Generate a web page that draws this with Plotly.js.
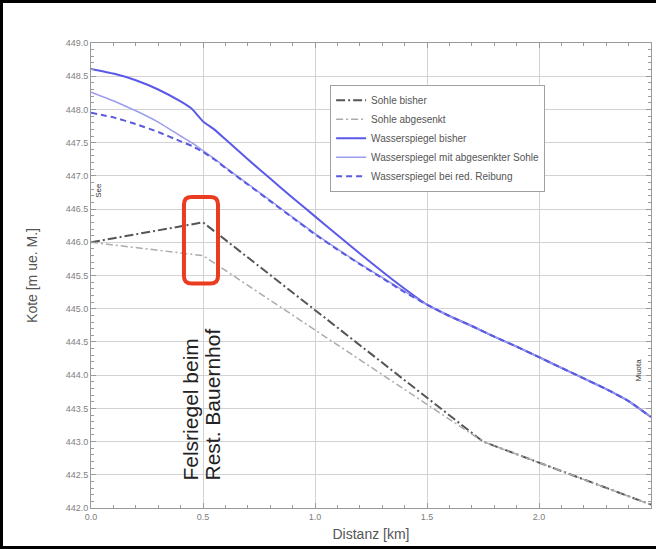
<!DOCTYPE html>
<html>
<head>
<meta charset="utf-8">
<script src="https://cdn.plot.ly/plotly-3.0.1.min.js"></script>
<style>
  html, body { margin: 0; padding: 0; background: #fff; }
  #wrap { position: relative; width: 656px; height: 549px; overflow: hidden; }
  #chart { position: absolute; left: 0; top: 0; width: 656px; height: 549px; }
  #frame { position: absolute; left: 0; top: 0; width: 656px; height: 549px; box-sizing: border-box;
           border-left: 3px solid #000; border-top: 3px solid #000; border-bottom: 3px solid #000; pointer-events: none; }
</style>
</head>
<body>
<div id="wrap"><div id="chart"></div><div id="frame"></div></div>
<script>
// ---- data ----
const xSohle = [0, 0.5, 1.75, 2.5];
const sohleBisher = [446.0, 446.3, 443.0, 442.05];
const sohleAbgesenkt = [446.0, 445.8, 443.0, 442.05];

const xWsp = [0, 0.1, 0.2, 0.3, 0.4, 0.45, 0.5, 0.55, 0.6, 0.7, 0.8, 0.9, 1.0, 1.1, 1.2, 1.3, 1.4, 1.5, 1.6, 1.7, 1.8, 1.9, 2.0, 2.1, 2.2, 2.3, 2.4, 2.5];
const wspBisher = [448.61, 448.54, 448.44, 448.30, 448.12, 448.01, 447.82, 447.70, 447.55, 447.25, 446.96, 446.67, 446.39, 446.11, 445.83, 445.56, 445.30, 445.06, 444.89, 444.74, 444.58, 444.43, 444.27, 444.11, 443.95, 443.79, 443.61, 443.37];
const wspAbgesenkt = [448.26, 448.13, 447.98, 447.81, 447.60, 447.50, 447.38, 447.26, 447.13, 446.88, 446.63, 446.38, 446.13, 445.90, 445.68, 445.47, 445.26, 445.06, 444.89, 444.74, 444.58, 444.43, 444.27, 444.11, 443.95, 443.79, 443.61, 443.37];
const wspReibung = [447.95, 447.88, 447.78, 447.66, 447.52, 447.45, 447.36, 447.25, 447.12, 446.87, 446.62, 446.37, 446.12, 445.89, 445.67, 445.46, 445.25, 445.06, 444.89, 444.74, 444.58, 444.43, 444.27, 444.11, 443.95, 443.79, 443.61, 443.37];

const names = ["Sohle bisher", "Sohle abgesenkt", "Wasserspiegel bisher", "Wasserspiegel mit abgesenkter Sohle", "Wasserspiegel bei red. Reibung"];
const xTickVals = [0, 0.5, 1.0, 1.5, 2.0, 2.5];
const yTickVals = [442.0, 442.5, 443.0, 443.5, 444.0, 444.5, 445.0, 445.5, 446.0, 446.5, 447.0, 447.5, 448.0, 448.5, 449.0];
const labelSee = "See";
const labelEnd = "Muota";
const noteLine1 = "Felsriegel beim";
const noteLine2 = "Rest. Bauernhof";
// highlight box (data units)
const box = {x0: 0.415, x1: 0.567, y0: 445.38, y1: 446.68, rx: 0.035, ry: 0.11};

const traces = [
  {x: xSohle, y: sohleBisher, name: names[0], mode: "lines",
   line: {color: "#555555", width: 2, dash: "9px,3px,2px,3px"}},
  {x: xSohle, y: sohleAbgesenkt, name: names[1], mode: "lines",
   line: {color: "#ababab", width: 1.5, dash: "7px,3px,2px,3px"}},
  {x: xWsp, y: wspBisher, name: names[2], mode: "lines", line: {color: "#5a5ae8", width: 2, shape: "spline", smoothing: 0.3}},
  {x: xWsp, y: wspAbgesenkt, name: names[3], mode: "lines", line: {color: "#9c9cf0", width: 1.5, shape: "spline", smoothing: 0.3}},
  {x: xWsp, y: wspReibung, name: names[4], mode: "lines", line: {color: "#5a5ae0", width: 2, dash: "6px,4px", shape: "spline", smoothing: 0.3}}
];

const b = box;
const boxPath = `M ${b.x0+b.rx},${b.y1} L ${b.x1-b.rx},${b.y1} Q ${b.x1},${b.y1} ${b.x1},${b.y1-b.ry} L ${b.x1},${b.y0+b.ry} Q ${b.x1},${b.y0} ${b.x1-b.rx},${b.y0} L ${b.x0+b.rx},${b.y0} Q ${b.x0},${b.y0} ${b.x0},${b.y0+b.ry} L ${b.x0},${b.y1-b.ry} Q ${b.x0},${b.y1} ${b.x0+b.rx},${b.y1} Z`;

const axisCommon = {
  showline: true, mirror: "allticks", linecolor: "#9a9a9a", linewidth: 1,
  ticks: "inside", ticklen: 5, tickcolor: "#9a9a9a", tickwidth: 1,
  showgrid: true, gridcolor: "#d2d2d2", gridwidth: 1, zeroline: false,
  tickfont: {family: "Liberation Sans, Arial, sans-serif", size: 9, color: "#808080"},
  minor: {dtick: 0.1, ticks: "inside", ticklen: 3, tickcolor: "#9a9a9a", showgrid: false}
};

const layout = {
  width: 656, height: 549,
  margin: {l: 91, r: 5, t: 43, b: 41},
  paper_bgcolor: "#ffffff", plot_bgcolor: "#ffffff",
  font: {family: "Liberation Sans, Arial, sans-serif", color: "#444"},
  showlegend: true,
  legend: {x: 0.427, y: 0.91, xanchor: "left", yanchor: "top",
           bgcolor: "#ffffff", bordercolor: "#a0a0a0", borderwidth: 1,
           font: {size: 10, color: "#555"}, itemwidth: 30},
  xaxis: Object.assign({}, axisCommon, {
    range: [0, 2.5], tickvals: xTickVals, tickformat: ".1f",
    title: {text: "Distanz [km]", font: {size: 14, color: "#555"}, standoff: 8}
  }),
  yaxis: Object.assign({}, axisCommon, {
    range: [442, 449], tickvals: yTickVals, tickformat: ".1f",
    title: {text: "Kote [m ue. M.]", font: {size: 14, color: "#555"}, standoff: 24}
  }),
  shapes: [
    {type: "path", xref: "x", yref: "y", path: boxPath, line: {color: "#ea3c20", width: 4}, fillcolor: "rgba(0,0,0,0)"}
  ],
  annotations: [
    {x: 0.033, y: 446.78, xref: "x", yref: "y", text: labelSee, showarrow: false, textangle: -90,
     font: {size: 8, color: "#333"}},
    {x: 2.442, y: 444.07, xref: "x", yref: "y", text: labelEnd, showarrow: false, textangle: -90,
     font: {size: 8, color: "#333"}},
    {x: 0.444, y: 442.39, xref: "x", yref: "y", text: noteLine1, showarrow: false, textangle: -90,
     xanchor: "center", yanchor: "bottom", font: {size: 21, color: "#222"}},
    {x: 0.542, y: 442.39, xref: "x", yref: "y", text: noteLine2, showarrow: false, textangle: -90,
     xanchor: "center", yanchor: "bottom", font: {size: 21, color: "#222"}}
  ]
};

Plotly.newPlot("chart", traces, layout, {displayModeBar: false, staticPlot: true});
</script>
</body>
</html>
